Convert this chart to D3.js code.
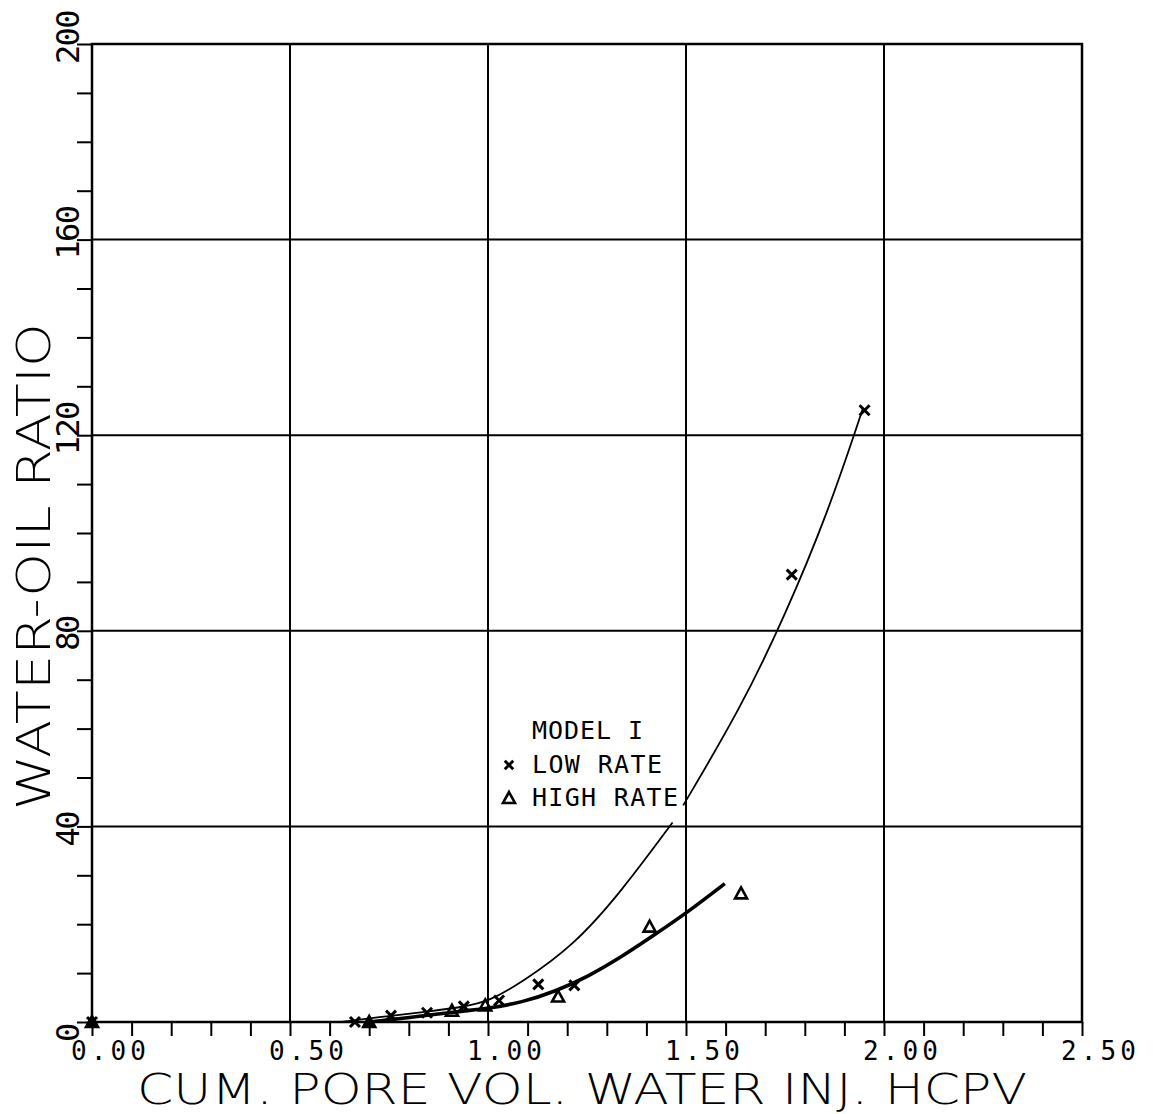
<!DOCTYPE html>
<html>
<head>
<meta charset="utf-8">
<script src="https://cdn.jsdelivr.net/npm/d3@7"></script>
<style>
  html, body { margin: 0; padding: 0; background: #fff; }
  svg { display: block; }
</style>
</head>
<body>
<svg id="chart" width="1153" height="1114"></svg>
<script>
// Water-oil ratio against cumulative pore volume of water injected (Model I)

// Measured points, low injection rate (x markers)
const lowRateX = [0.00, 0.664, 0.755, 0.846, 0.939, 1.028, 1.127, 1.218, 1.767, 1.951];
const lowRateY = [0.0, 0.0, 1.3, 1.9, 3.2, 4.4, 7.7, 7.5, 91.5, 125.1];

// Measured points, high injection rate (triangles)
const highRateX = [0.00, 0.700, 0.909, 0.993, 1.177, 1.408, 1.639];
const highRateY = [0.0, 0.0, 2.3, 3.4, 5.2, 19.5, 26.3];

// Hand-fitted trend, low rate (NaN marks a break in the pen line)
const lowFitX = [0.63, 0.755, 0.846, 0.939, 1.002, 1.085, 1.216, 1.336, 1.466, 1.48, 1.493, 1.636, 1.748, 1.86, 1.946];
const lowFitY = [0.0, 1.3, 2.1, 3.1, 4.2, 8.1, 15.6, 26.6, 40.8, NaN, 44.3, 63.9, 82.7, 104.5, 125.3];

// Hand-fitted trend, high rate
const highFitX = [0.70, 0.80, 0.909, 1.003, 1.085, 1.168, 1.253, 1.337, 1.42, 1.51, 1.598];
const highFitY = [0.0, 0.9, 2.0, 2.8, 4.0, 6.2, 9.3, 13.3, 17.8, 22.8, 28.3];

// Axis ticks and labels
const xMajor = [0, 0.5, 1.0, 1.5, 2.0, 2.5];
const xLabels = ["0.00", "0.50", "1.00", "1.50", "2.00", "2.50"];
const yMajor = [0, 40, 80, 120, 160, 200];
const yLabels = ["0", "40", "80", "120", "160", "200"];
const xMinor = d3.range(0, 26).map(i => i / 10);
const yMinor = d3.range(0, 21).map(i => i * 10);

const legendTitle = "MODEL I";
const legendLabels = ["LOW RATE", "HIGH RATE"];
const xTitle = "CUM. PORE VOL. WATER INJ. HCPV";
const yTitle = "WATER-OIL RATIO";

const box = { left: 92, right: 1082, top: 44, bottom: 1022 };
const MONO = "'DejaVu Sans Mono', 'Liberation Mono', monospace";
const TITLE = "'DejaVu Sans', 'Liberation Sans', sans-serif";

const x = d3.scaleLinear().domain([0, 2.5]).range([box.left, box.right]);
const y = d3.scaleLinear().domain([0, 200]).range([box.bottom, box.top]);

const svg = d3.select("#chart");
svg.append("rect").attr("width", 1153).attr("height", 1114).attr("fill", "#fff");

// Grid lines
const grid = svg.append("g").attr("stroke", "#000").attr("stroke-width", 2);
grid.selectAll(".gx").data(xMajor.slice(1, -1)).join("line")
  .attr("x1", d => x(d)).attr("x2", d => x(d))
  .attr("y1", box.top).attr("y2", box.bottom);
grid.selectAll(".gy").data(yMajor.slice(1, -1)).join("line")
  .attr("y1", d => y(d)).attr("y2", d => y(d))
  .attr("x1", box.left).attr("x2", box.right);

// Tick marks (outward)
svg.append("g").attr("transform", `translate(0,${box.bottom})`)
  .call(d3.axisBottom(x).tickValues(xMinor).tickSize(14).tickFormat(""))
  .call(g => g.select(".domain").remove())
  .selectAll("line").attr("stroke", "#000").attr("stroke-width", 2);
svg.append("g").attr("transform", `translate(${box.left},0)`)
  .call(d3.axisLeft(y).tickValues(yMinor).tickSize(15).tickFormat(""))
  .call(g => g.select(".domain").remove())
  .selectAll("line").attr("stroke", "#000").attr("stroke-width", 2);

// Frame
svg.append("rect")
  .attr("x", box.left).attr("y", box.top)
  .attr("width", box.right - box.left).attr("height", box.bottom - box.top)
  .attr("fill", "none").attr("stroke", "#000").attr("stroke-width", 2.5);

// Tick labels
svg.append("g").selectAll("text").data(xMajor).join("text")
  .attr("x", d => x(d) - 21).attr("y", box.bottom + 38)
  .attr("font-family", MONO).attr("font-size", 26)
  .attr("textLength", 75).attr("lengthAdjust", "spacing")
  .text((d, i) => xLabels[i]);

svg.append("g").selectAll("text").data(yMajor).join("text")
  .attr("transform", d => `translate(79,${y(d) + 20}) rotate(-90)`)
  .attr("font-family", MONO).attr("font-size", 32)
  .attr("textLength", (d, i) => yLabels[i].length * 18.5 - 1)
  .attr("lengthAdjust", "spacing")
  .text((d, i) => yLabels[i]);

// Axis titles
svg.append("text")
  .attr("x", 137).attr("y", 1104)
  .attr("font-family", TITLE).attr("font-size", 42).attr("font-weight", 200)
  .attr("textLength", 890).attr("lengthAdjust", "spacingAndGlyphs")
  .text(xTitle);
svg.append("text")
  .attr("transform", "translate(50,810) rotate(-90)")
  .attr("font-family", TITLE).attr("font-size", 47).attr("font-weight", 200)
  .attr("textLength", 487).attr("lengthAdjust", "spacingAndGlyphs")
  .text(yTitle);

// Fitted curves
const lineGen = d3.line()
  .defined(d => !isNaN(d[1]))
  .x(d => x(d[0])).y(d => y(d[1]))
  .curve(d3.curveBasis);

svg.append("path")
  .datum(lowFitX.map((v, i) => [v, lowFitY[i]]))
  .attr("d", lineGen)
  .attr("fill", "none").attr("stroke", "#000").attr("stroke-width", 1.8);
svg.append("path")
  .datum(highFitX.map((v, i) => [v, highFitY[i]]))
  .attr("d", lineGen)
  .attr("fill", "none").attr("stroke", "#000").attr("stroke-width", 3.6);

// Marker shapes
const crossPath = "M-5,-5L5,5M-5,5L5,-5";
const triPath = "M0,-6L6,5L-6,5Z";

svg.append("g").selectAll("path").data(lowRateX.map((v, i) => [v, lowRateY[i]])).join("path")
  .attr("transform", d => `translate(${x(d[0])},${y(d[1])})`)
  .attr("d", crossPath)
  .attr("fill", "none").attr("stroke", "#000").attr("stroke-width", 3);

svg.append("g").selectAll("path").data(highRateX.map((v, i) => [v, highRateY[i]])).join("path")
  .attr("transform", d => `translate(${x(d[0])},${y(d[1])})`)
  .attr("d", triPath)
  .attr("fill", d => d[1] === 0 ? "#000" : "none")
  .attr("stroke", "#000").attr("stroke-width", 2.6);

// Legend
const legend = svg.append("g").attr("font-family", MONO).attr("font-size", 25);
legend.append("text").attr("x", 532).attr("y", 739)
  .attr("textLength", 111).attr("lengthAdjust", "spacing").text(legendTitle);
legend.append("text").attr("x", 532).attr("y", 773)
  .attr("textLength", 130).attr("lengthAdjust", "spacing").text(legendLabels[0]);
legend.append("text").attr("x", 532).attr("y", 806)
  .attr("textLength", 146).attr("lengthAdjust", "spacing").text(legendLabels[1]);
legend.append("path").attr("transform", "translate(509,765) scale(0.85)")
  .attr("d", crossPath).attr("fill", "none").attr("stroke", "#000").attr("stroke-width", 3.4);
legend.append("path").attr("transform", "translate(509,798)")
  .attr("d", triPath).attr("fill", "none").attr("stroke", "#000").attr("stroke-width", 2.6);
</script>
</body>
</html>
